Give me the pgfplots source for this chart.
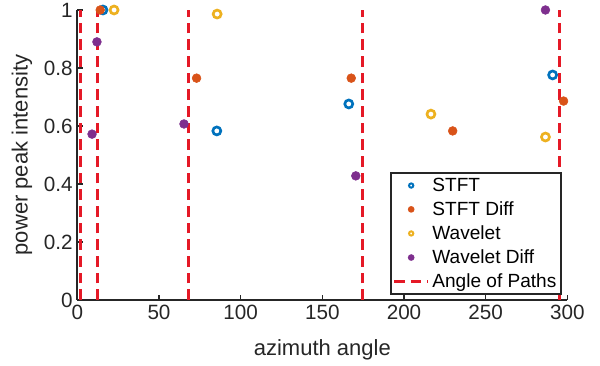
\documentclass[border=0pt]{standalone}
\usepackage{pgfplots}
\pgfplotsset{compat=1.18}
\usepackage{fontspec}
\setmainfont{Liberation Sans}
\definecolor{mblue}{rgb}{0,0.447,0.741}
\definecolor{morange}{rgb}{0.85,0.325,0.098}
\definecolor{myellow}{rgb}{0.929,0.694,0.125}
\definecolor{mpurple}{rgb}{0.494,0.184,0.556}
\definecolor{mred}{rgb}{0.9,0.1,0.15}
\begin{document}
\begin{tikzpicture}
\begin{axis}[
  name=ax,
  scale only axis,
  width=367.5pt, height=217.5pt,
  xmin=0, xmax=300, ymin=0, ymax=1,
  xtick={0,50,...,300},
  ytick={0,0.2,0.4,0.6,0.8,1},
  axis x line*=bottom, axis y line*=left,
  axis line style={line width=1.3pt, black!85},
  tick align=inside,
  major tick length=4pt,
  tick style={line width=1.1pt, black!85},
  clip=false,
  /pgf/number format/assume math mode=true,
  ticklabel style={font=\fontsize{15.5}{18}\selectfont, text=black!85},
  xlabel={azimuth angle}, ylabel={power peak intensity},
  every axis x label/.style={at={(axis description cs:0.5,-0.172)},anchor=center,
    font=\fontsize{16.5}{19}\selectfont, text=black!85},
  every axis y label/.style={at={(axis description cs:-0.113,0.5)},rotate=90,anchor=center,
    font=\fontsize{16.5}{19}\selectfont, text=black!85},
  legend style={at={(axis description cs:0.989,0.017)}, anchor=south east,
    font=\fontsize{14.3}{17}\selectfont, draw=black!85, line width=1.3pt,
    inner xsep=1.5pt, inner ysep=1.5pt, row sep=2.2pt, cells={anchor=west}},
  legend cell align=left,
  legend image code/.code={\draw[mark repeat=2,mark phase=2,#1] plot coordinates {(0cm,0cm) (0.45cm,0cm) (0.9cm,0cm)};},
]
\addplot[only marks, mark=o, mark size=3pt, mark options={line width=2pt, draw=mblue},
  legend image post style={mark size=1.6pt, mark options={line width=1.5pt, draw=mblue}}]
  coordinates {(15.7,1.0) (85.4,0.583) (166.2,0.676) (291,0.776)};
\addlegendentry{STFT}
\addplot[only marks, mark=*, mark size=3.3pt, mark options={draw=morange, fill=morange},
  legend image post style={mark size=1.8pt}]
  coordinates {(14,1.0) (73,0.765) (167.7,0.765) (229.8,0.583) (297.7,0.686)};
\addlegendentry{STFT Diff}
\addplot[only marks, mark=o, mark size=3pt, mark options={line width=2pt, draw=myellow},
  legend image post style={mark size=1.6pt, mark options={line width=1.5pt, draw=myellow}}]
  coordinates {(22.5,1.0) (85.6,0.986) (216.5,0.641) (286.6,0.562)};
\addlegendentry{Wavelet}
\addplot[only marks, mark=*, mark size=3.3pt, mark options={draw=mpurple, fill=mpurple},
  legend image post style={mark size=1.8pt}]
  coordinates {(12,0.89) (9,0.572) (65.3,0.607) (170.5,0.428) (286.6,1.0)};
\addlegendentry{Wavelet Diff}
\addplot[mred, line width=2.2pt, dash pattern=on 8pt off 4.5pt, unbounded coords=jump]
  table[row sep=\\] {x y\\ 2 0\\ 2 1\\ nan nan\\ 12.3 0\\ 12.3 1\\ nan nan\\ 67.8 0\\ 67.8 1\\ nan nan\\ 174.7 0\\ 174.7 1\\ nan nan\\ 295 0\\ 295 1\\};
\addlegendentry{Angle of Paths}
\end{axis}
\pgfresetboundingbox
\path[use as bounding box] ([xshift=-58pt,yshift=-49.5pt]ax.south west) rectangle ++(450pt,274.5pt);
\end{tikzpicture}
\end{document}
